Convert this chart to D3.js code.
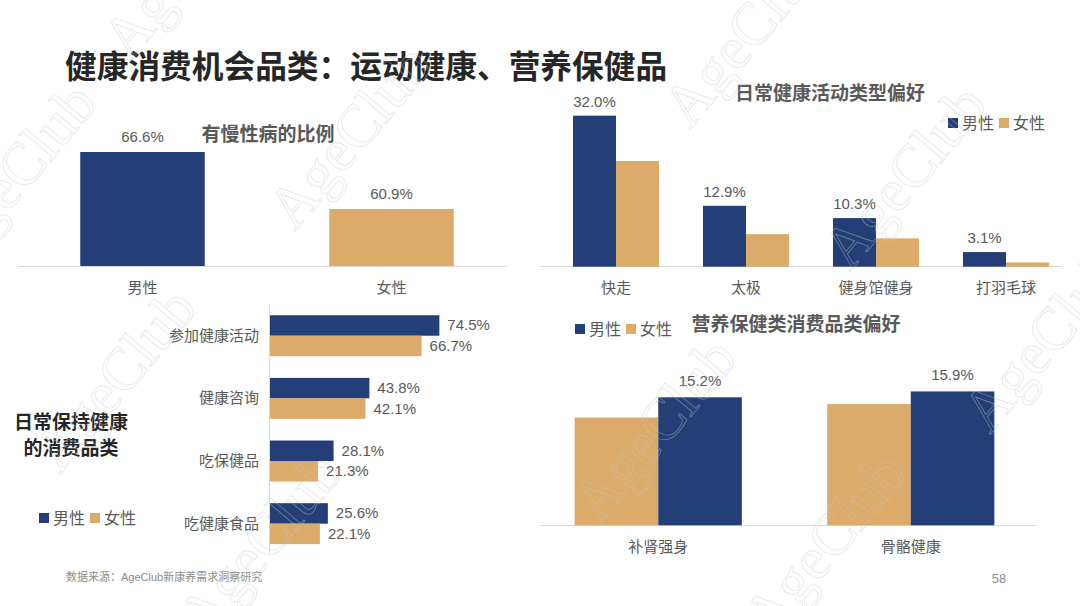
<!DOCTYPE html>
<html>
<head>
<meta charset="utf-8">
<script src="https://cdn.jsdelivr.net/npm/d3@7"></script>
<style>
  body { margin: 0; background: #fff; }
  svg { display: block; font-family: "Liberation Sans", "Noto Sans CJK SC", sans-serif; }
</style>
</head>
<body>
<div id="chart"></div>
<script>
// ---- data ----
const genders = ['男性', '女性']

const chronicCats = ['男性', '女性']
const chronicVals = [66.6, 60.9]

const activityCats = ['快走', '太极', '健身馆健身', '打羽毛球']
const activityMale = [32.0, 12.9, 10.3, 3.1]
const activityFemale = [22.4, 6.9, 6.0, 0.9]

const spendCats = ['参加健康活动', '健康咨询', '吃保健品', '吃健康食品']
const spendMale = [74.5, 43.8, 28.1, 25.6]
const spendFemale = [66.7, 42.1, 21.3, 22.1]

const nutriCats = ['补肾强身', '骨骼健康']
const nutriFemale = [12.8, 14.4]
const nutriMale = [15.2, 15.9]

const NAVY = '#243f77'
const GOLD = '#dcab6a'
const GRAY = '#595959'
const AXIS = '#d9d9d9'
const colorOf = {'男性': NAVY, '女性': GOLD}
const fmt = d => d3.format('.1f')(d) + '%'

const svg = d3.select('#chart').append('svg')
  .attr('width', 1080)
  .attr('height', 606)

// main title
svg.append('text')
  .attr('x', 65).attr('y', 78)
  .attr('font-size', 31.7).attr('font-weight', 'bold')
  .attr('fill', '#262626')
  .attr('font-family', '"Noto Sans CJK SC", sans-serif')
  .text('健康消费机会品类：运动健康、营养保健品')

function legend(x, y, order) {
  let g = svg.append('g')
  let cx = x
  order.forEach(k => {
    g.append('rect').attr('x', cx).attr('y', y - 5).attr('width', 10).attr('height', 10).attr('fill', colorOf[k])
    g.append('text').attr('x', cx + 14).attr('y', y + 6)
      .attr('font-size', 16).attr('fill', GRAY).text(k)
    cx += 51
  })
}

function subTitle(x, y, t, color) {
  svg.append('text').attr('x', x).attr('y', y)
    .attr('text-anchor', 'middle')
    .attr('font-size', 19).attr('font-weight', 'bold')
    .attr('fill', color || GRAY)
    .attr('font-family', '"Noto Sans CJK SC", sans-serif')
    .text(t)
}

// ---- panel 1: chronic disease ----
{
  let x = d3.scaleBand().domain(chronicCats).range([18, 516]).paddingInner(0.5).paddingOuter(0.25)
  let y = d3.scaleLinear().domain([55.2, 70]).range([266, 118])
  let g = svg.append('g')
  g.append('line').attr('x1', 18).attr('x2', 507).attr('y1', 266.5).attr('y2', 266.5).attr('stroke', AXIS)
  g.selectAll('rect').data(chronicCats).join('rect')
    .attr('x', d => x(d))
    .attr('y', (d, i) => y(chronicVals[i]))
    .attr('width', x.bandwidth())
    .attr('height', (d, i) => y(55.2) - y(chronicVals[i]))
    .attr('fill', d => colorOf[d])
  g.selectAll('.val').data(chronicCats).join('text')
    .attr('x', d => x(d) + x.bandwidth() / 2)
    .attr('y', (d, i) => y(chronicVals[i]) - 10)
    .attr('text-anchor', 'middle').attr('font-size', 15).attr('fill', GRAY)
    .text((d, i) => fmt(chronicVals[i]))
  g.selectAll('.cat').data(chronicCats).join('text')
    .attr('x', d => x(d) + x.bandwidth() / 2)
    .attr('y', 293)
    .attr('text-anchor', 'middle').attr('font-size', 15).attr('fill', GRAY)
    .text(d => d)
  subTitle(268, 141, '有慢性病的比例')
}

// ---- panel 2: activity types ----
{
  let x = d3.scaleBand().domain(activityCats).range([551, 1071]).paddingInner(0.338).paddingOuter(0.169)
  let xs = d3.scaleBand().domain(genders).range([0, x.bandwidth()])
  let y = d3.scaleLinear().domain([0, 35]).range([266.7, 266.7 - 35 * 4.72])
  let g = svg.append('g')
  g.append('line').attr('x1', 540).attr('x2', 1062).attr('y1', 266.5).attr('y2', 266.5).attr('stroke', AXIS)
  let rows = activityCats.map((c, i) => ({c, '男性': activityMale[i], '女性': activityFemale[i]}))
  let grp = g.selectAll('.grp').data(rows).join('g').attr('transform', d => `translate(${x(d.c)},0)`)
  grp.selectAll('rect').data(d => genders.map(k => ({k, v: d[k]}))).join('rect')
    .attr('x', d => xs(d.k))
    .attr('y', d => y(d.v))
    .attr('width', xs.bandwidth())
    .attr('height', d => y(0) - y(d.v))
    .attr('fill', d => colorOf[d.k])
  grp.append('text')
    .attr('x', xs('男性') + xs.bandwidth() / 2)
    .attr('y', d => y(d['男性']) - 9)
    .attr('text-anchor', 'middle').attr('font-size', 15).attr('fill', GRAY)
    .text(d => fmt(d['男性']))
  grp.append('text')
    .attr('x', x.bandwidth() / 2).attr('y', 293)
    .attr('text-anchor', 'middle').attr('font-size', 15).attr('fill', GRAY)
    .text(d => d.c)
  subTitle(830, 100, '日常健康活动类型偏好')
  legend(948, 123, genders)
}

// ---- panel 3: daily spend categories ----
{
  let y = d3.scaleBand().domain(spendCats).range([304.4, 555]).paddingInner(0.346).paddingOuter(0.173)
  let ys = d3.scaleBand().domain(genders).range([0, y.bandwidth()])
  let x = d3.scaleLinear().domain([0, 80]).range([269.5, 269.5 + 80 * 2.28])
  let g = svg.append('g')
  let rows = spendCats.map((c, i) => ({c, '男性': spendMale[i], '女性': spendFemale[i]}))
  let grp = g.selectAll('.grp').data(rows).join('g').attr('transform', d => `translate(0,${y(d.c)})`)
  grp.selectAll('rect').data(d => genders.map(k => ({k, v: d[k]}))).join('rect')
    .attr('x', x(0))
    .attr('y', d => ys(d.k))
    .attr('width', d => x(d.v) - x(0))
    .attr('height', ys.bandwidth())
    .attr('fill', d => colorOf[d.k])
  grp.selectAll('.val').data(d => genders.map(k => ({k, v: d[k]}))).join('text')
    .attr('x', d => x(d.v) + 8)
    .attr('y', d => ys(d.k) + ys.bandwidth() / 2 + 5)
    .attr('font-size', 15).attr('fill', GRAY)
    .text(d => fmt(d.v))
  grp.append('text')
    .attr('x', 259).attr('y', y.bandwidth() / 2 + 5)
    .attr('text-anchor', 'end').attr('font-size', 15).attr('fill', GRAY)
    .text(d => d.c)
  g.append('line').attr('x1', 269.5).attr('x2', 269.5).attr('y1', 305).attr('y2', 553).attr('stroke', AXIS)
  subTitle(71, 429, '日常保持健康', '#262626')
  subTitle(71, 455, '的消费品类', '#262626')
  legend(39, 518, genders)
}

// ---- panel 4: nutrition products ----
{
  let x = d3.scaleBand().domain(nutriCats).range([532, 1037]).paddingInner(0.338).paddingOuter(0.169)
  let order = ['女性', '男性']
  let xs = d3.scaleBand().domain(order).range([0, x.bandwidth()])
  let y = d3.scaleLinear().domain([0, 16]).range([525.3, 525.3 - 16 * 8.42])
  let g = svg.append('g')
  g.append('line').attr('x1', 540).attr('x2', 1037).attr('y1', 525.5).attr('y2', 525.5).attr('stroke', AXIS)
  let rows = nutriCats.map((c, i) => ({c, '男性': nutriMale[i], '女性': nutriFemale[i]}))
  let grp = g.selectAll('.grp').data(rows).join('g').attr('transform', d => `translate(${x(d.c)},0)`)
  grp.selectAll('rect').data(d => order.map(k => ({k, v: d[k]}))).join('rect')
    .attr('x', d => xs(d.k))
    .attr('y', d => y(d.v))
    .attr('width', xs.bandwidth())
    .attr('height', d => y(0) - y(d.v))
    .attr('fill', d => colorOf[d.k])
  grp.append('text')
    .attr('x', xs('男性') + xs.bandwidth() / 2)
    .attr('y', d => y(d['男性']) - 11)
    .attr('text-anchor', 'middle').attr('font-size', 15).attr('fill', GRAY)
    .text(d => fmt(d['男性']))
  grp.append('text')
    .attr('x', x.bandwidth() / 2).attr('y', 552)
    .attr('text-anchor', 'middle').attr('font-size', 15).attr('fill', GRAY)
    .text(d => d.c)
  subTitle(796, 331, '营养保健类消费品类偏好')
  legend(575, 329, genders)
}

// footer
svg.append('text').attr('x', 66).attr('y', 581)
  .attr('font-size', 11).attr('fill', '#8c8c8c')
  .text('数据来源：AgeClub新康养需求洞察研究')
svg.append('text').attr('x', 999).attr('y', 583)
  .attr('text-anchor', 'middle').attr('font-size', 13).attr('fill', '#8c8c8c')
  .text('58')

// watermark
const marks = [[-40, 270], [130, 62], [295, 232], [690, 130], [850, 272], [60, 475], [600, 525], [205, 640], [770, 640], [990, 435]]
svg.append('g').selectAll('text').data(marks).join('text')
  .attr('transform', d => `translate(${d[0]},${d[1]}) rotate(-50)`)
  .attr('font-family', '"Liberation Serif", "DejaVu Serif", serif')
  .attr('font-size', 60)
  .attr('fill', 'none')
  .attr('stroke', '#c8c8c8')
  .attr('stroke-width', 0.8)
  .attr('opacity', 0.45)
  .text('AgeClub')
</script>
</body>
</html>
